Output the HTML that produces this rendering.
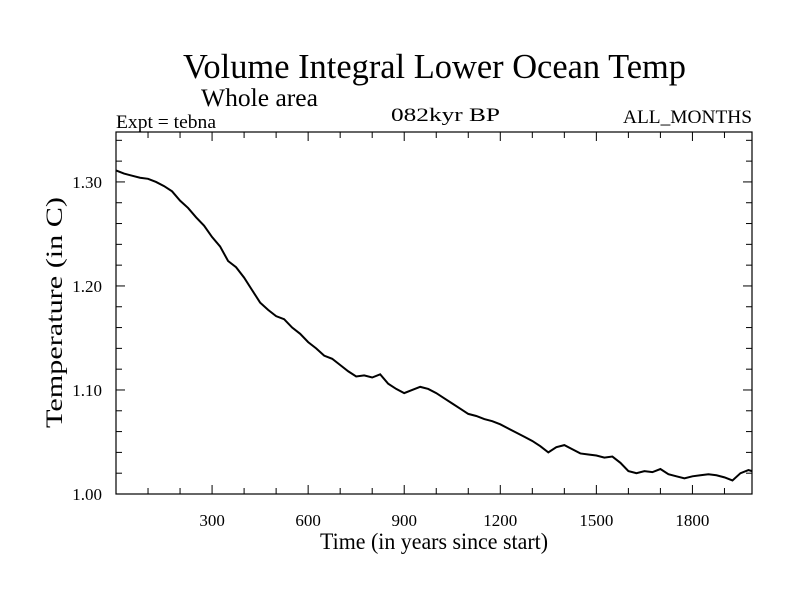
<!DOCTYPE html>
<html><head><meta charset="utf-8"><style>
body{margin:0;background:#fff}
text{font-family:"Liberation Serif",serif;fill:#000}
</style></head><body>
<svg id="c" width="800" height="600">
<text x="183" y="78" font-size="35" textLength="503" lengthAdjust="spacingAndGlyphs">Volume Integral Lower Ocean Temp</text>
<text x="201" y="106" font-size="25" textLength="117" lengthAdjust="spacingAndGlyphs">Whole area</text>
<text x="116" y="128" font-size="19" textLength="100" lengthAdjust="spacingAndGlyphs">Expt = tebna</text>
<text x="391" y="121" font-size="19" textLength="109" lengthAdjust="spacingAndGlyphs">082kyr BP</text>
<text x="623" y="123" font-size="19" textLength="129" lengthAdjust="spacingAndGlyphs">ALL_MONTHS</text>
<text x="320" y="549" font-size="23" textLength="228" lengthAdjust="spacingAndGlyphs">Time (in years since start)</text>
<text transform="translate(62,428) rotate(-90)" font-size="23" textLength="231" lengthAdjust="spacingAndGlyphs">Temperature (in C)</text>
<g id="ax"></g>
</svg>
<script>
const years=[0,25,50,75,100,125,150,175,200,225,250,275,300,325,350,375,400,425,450,475,500,525,550,575,600,625,650,675,700,725,750,775,800,825,850,875,900,925,950,975,1000,1025,1050,1075,1100,1125,1150,1175,1200,1225,1250,1275,1300,1325,1350,1375,1400,1425,1450,1475,1500,1525,1550,1575,1600,1625,1650,1675,1700,1725,1750,1775,1800,1825,1850,1875,1900,1925,1950,1975,1986];
const temps=[1.311,1.308,1.306,1.304,1.303,1.300,1.296,1.291,1.282,1.275,1.266,1.258,1.247,1.238,1.224,1.218,1.208,1.196,1.184,1.177,1.171,1.168,1.160,1.154,1.146,1.140,1.133,1.130,1.124,1.118,1.113,1.114,1.112,1.115,1.106,1.101,1.097,1.100,1.103,1.101,1.097,1.092,1.087,1.082,1.077,1.075,1.072,1.070,1.067,1.063,1.059,1.055,1.051,1.046,1.040,1.045,1.047,1.043,1.039,1.038,1.037,1.035,1.036,1.030,1.022,1.020,1.022,1.021,1.024,1.019,1.017,1.015,1.017,1.018,1.019,1.018,1.016,1.013,1.020,1.023,1.022];
const xTicks=[300,600,900,1200,1500,1800];
const yTicks=[1.00,1.10,1.20,1.30];
const X0=116,X1=752,Y0=494,Y1=132,XMAX=1986,YMIN=1.0,YMAX=1.348;
const xs=v=>X0+(v/XMAX)*(X1-X0);
const ys=v=>Y0-(v-YMIN)/(YMAX-YMIN)*(Y0-Y1);
const ns="http://www.w3.org/2000/svg",g=document.getElementById('ax');
function mk(t,a){const e=document.createElementNS(ns,t);for(const k in a)e.setAttribute(k,a[k]);g.appendChild(e);return e;}
const fr=mk('rect',{x:X0,y:Y1,width:X1-X0,height:Y0-Y1,fill:'none',stroke:'#000','stroke-width':1.2});


for(let v=100;v<XMAX;v+=100){const big=v%300===0,l=big?9:6,x=xs(v);
 mk('line',{x1:x,x2:x,y1:Y0,y2:Y0-l,stroke:'#000'});mk('line',{x1:x,x2:x,y1:Y1,y2:Y1+l,stroke:'#000'});}
for(let i=1;i<18;i++){const v=1+i*0.02,big=i%5===0,l=big?9:6,y=ys(v);
 mk('line',{x1:X0,x2:X0+l,y1:y,y2:y,stroke:'#000'});mk('line',{x1:X1,x2:X1-l,y1:y,y2:y,stroke:'#000'});}
xTicks.forEach(v=>{const t=mk('text',{x:xs(v),y:526,'font-size':17,'text-anchor':'middle'});t.textContent=v;
 
 });
yTicks.forEach(v=>{const t=mk('text',{x:102,y:ys(v)+6,'font-size':17,'text-anchor':'end'});t.textContent=v.toFixed(2);
 
 });
const p=mk('polyline',{points:years.map((v,i)=>xs(v)+','+ys(temps[i])).join(' '),fill:'none',stroke:'#000','stroke-width':2});


</script>
</body></html>
